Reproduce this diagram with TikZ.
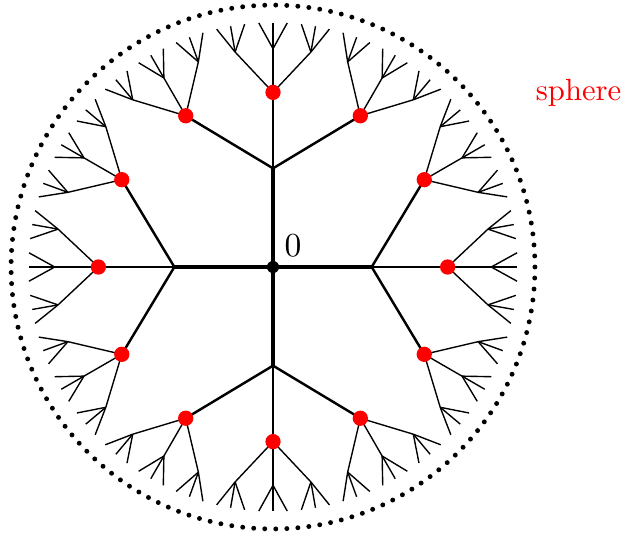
\documentclass[tikz,border=0pt]{standalone}
\usetikzlibrary{calc}
\tikzset{
  boundary/.style={line width=1.6pt, line cap=round, dash pattern=on 0pt off 3.6pt},
  edgeA/.style={line width=1.1pt},
  edgeB/.style={line width=0.8pt},
  edgeC/.style={line width=0.45pt},
  reddot/.style={circle, fill=red, inner sep=0pt, minimum size=1.75mm},
  origin/.style={circle, fill=black, inner sep=0pt, minimum size=1.4mm},
}
\begin{document}
\begin{tikzpicture}
  \useasboundingbox (-3.127,-3.082) rectangle (4.043,3.058);
  % boundary sphere
  \draw[boundary] (0,0) circle (3);
  \coordinate (o) at (0,0);
  % tree, four levels
  \foreach \i in {0,...,3} {
    \pgfmathsetmacro\ta{90*\i}
    \coordinate (a\i) at (\ta:1.13);
    \draw[edgeA] (o) -- (a\i);
    \foreach \j in {1,2,3} {
      \pgfmathsetmacro\tb{\ta+30*(\j-2)}
      \coordinate (b\i\j) at (\tb:2);
      \draw[edgeB] (a\i) -- (b\i\j);
      \foreach \k in {1,2,3} {
        \pgfmathsetmacro\tc{\tb+10*(\k-2)}
        \coordinate (c\i\j\k) at (\tc:2.5);
        \draw[edgeC] (b\i\j) -- (c\i\j\k);
        \foreach \l in {1,2,3} {
          \pgfmathsetmacro\td{\tc+10/3*(\l-2)}
          \coordinate (d\i\j\k\l) at (\td:2.8);
          \draw[edgeC] (c\i\j\k) -- (d\i\j\k\l);
        }
      }
    }
  }
  % marked vertices
  \foreach \i in {0,...,3} {
    \foreach \j in {1,2,3} {
      \node[reddot] (r\i\j) at (b\i\j) {};
    }
  }
  \node[origin] (odot) at (o) {};
  \node (zero) at (0.23,0.25) {\fontsize{11}{13}\selectfont$0$};
  \node[text=red] (sphere) at (3.5,2.0) {sphere};
\end{tikzpicture}
\end{document}
